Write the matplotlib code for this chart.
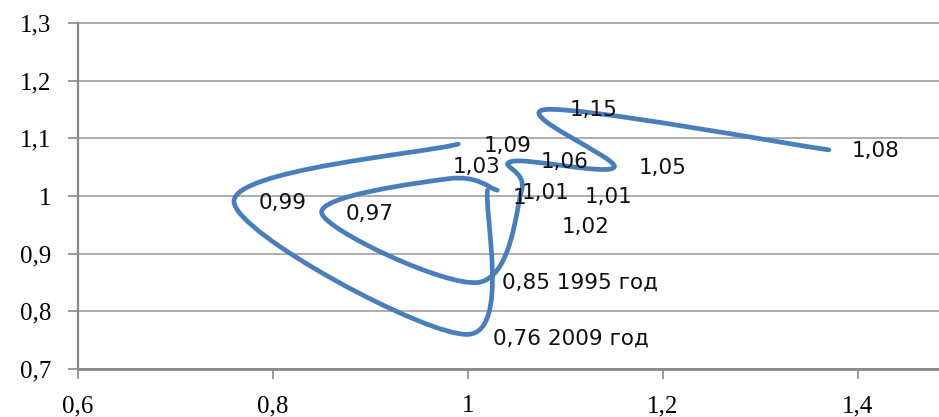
import numpy as np
import matplotlib
matplotlib.use("Agg")
import matplotlib.pyplot as plt
from matplotlib.path import Path
from matplotlib.patches import PathPatch

# Data
series_a_x = [1.37, 1.08, 1.15, 1.045, 1.055, 1.01, 0.85, 0.98, 1.03]
series_a_y = [1.08, 1.15, 1.05, 1.06, 1.01, 0.85, 0.97, 1.03, 1.01]
series_b_x = [0.99, 0.76, 1.00, 1.02]
series_b_y = [1.09, 0.99, 0.76, 1.01]

label_texts = ["1,08", "1,15", "1,05", "1,06", "1,01", "1", "1,01", "1,02",
               "1,09", "1,03", "0,99", "0,97", "0,85 1995 год", "0,76 2009 год"]
label_x = [1.3935, 1.1046, 1.1747, 1.0745, 1.055, 1.046, 1.12, 1.096,
           1.0157, 0.984, 0.785, 0.874, 1.0346, 1.026]
label_y = [1.0786, 1.149, 1.048, 1.0595, 1.0058, 0.9966, 0.999, 0.946,
           1.0867, 1.051, 0.987, 0.969, 0.849, 0.753]

x_ticks = [0.6, 0.8, 1.0, 1.2, 1.4]
x_tick_labels = ["0,6", "0,8", "1", "1,2", "1,4"]
y_ticks = [0.7, 0.8, 0.9, 1.0, 1.1, 1.2, 1.3]
y_tick_labels = ["0,7", "0,8", "0,9", "1", "1,1", "1,2", "1,3"]

LINE_COLOR = "#4a7ebb"


def smooth_path(xs, ys):
    pts = np.column_stack([xs, ys]).astype(float)
    n = len(pts)
    verts = [pts[0]]
    codes = [Path.MOVETO]
    for i in range(n - 1):
        pm = pts[i - 1] if i > 0 else pts[i]
        p0 = pts[i]
        p1 = pts[i + 1]
        p2 = pts[i + 2] if i + 2 < n else pts[i + 1]
        c1 = p0 + (p1 - pm) / 6.0
        c2 = p1 - (p2 - p0) / 6.0
        verts += [c1, c2, p1]
        codes += [Path.CURVE4] * 3
    return Path(verts, codes)


fig = plt.figure(figsize=(9.39, 4.17), dpi=100)
ax = fig.add_axes([78 / 939, 1 - 369 / 417, 1 - 78 / 939, (369 - 23) / 417])
ax.set_xlim(0.6, 0.6 + 861 / 975)
ax.set_ylim(0.7, 1.3)

for xs, ys in [(series_a_x, series_a_y), (series_b_x, series_b_y)]:
    patch = PathPatch(smooth_path(xs, ys), facecolor="none", edgecolor=LINE_COLOR,
                      lw=3.4, capstyle="round", joinstyle="round", zorder=3)
    ax.add_patch(patch)

for t, lx, ly in zip(label_texts, label_x, label_y):
    ax.text(lx, ly, t, fontsize=15.5, family="DejaVu Sans", color="#111111",
            ha="left", va="center", zorder=4)

ax.set_xticks(x_ticks)
ax.set_xticklabels(x_tick_labels)
ax.set_yticks(y_ticks)
ax.set_yticklabels(y_tick_labels)
for lab in ax.get_xticklabels() + ax.get_yticklabels():
    lab.set_family("Liberation Serif")
    lab.set_fontsize(18)
    lab.set_color("#000000")

ax.yaxis.grid(True, color="#a0a0a0", lw=1.2)
ax.xaxis.grid(False)
ax.set_axisbelow(True)
for gl in ax.get_ygridlines():
    gl.set_clip_on(False)

for s in ["top", "right"]:
    ax.spines[s].set_visible(False)
ax.spines["left"].set_color("#8a8a8a")
ax.spines["left"].set_linewidth(1.6)
ax.spines["bottom"].set_color("#8a8a8a")
ax.spines["bottom"].set_linewidth(2.0)
ax.tick_params(axis="both", direction="out", length=7, width=1.2, color="#8a8a8a")
ax.tick_params(axis="y", pad=12)
ax.tick_params(axis="x", pad=12)

fig.savefig("out.png", dpi=100)
